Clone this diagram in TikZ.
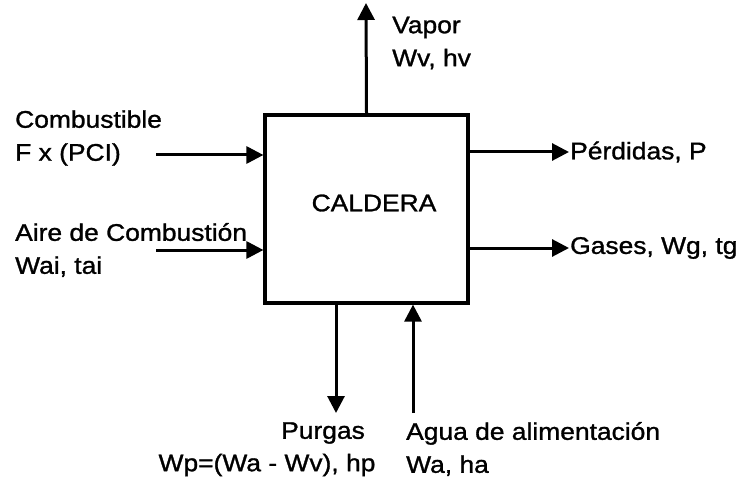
\documentclass[tikz,border=0pt]{standalone}
\usepackage{fontspec}
\setmainfont[FakeStretch=1.1, FakeBold=1.2]{Liberation Sans}
\usetikzlibrary{arrows.meta, positioning}
\tikzset{
  %% boiler block
  caja/.style={rectangle, draw=black, line width=3.2pt, minimum width=203pt,
               minimum height=188pt, inner sep=0pt},
  %% texts
  lbl/.style={font=\fontsize{24}{33}\selectfont, align=left, inner sep=0pt},
  %% flows
  flow/.style={draw=black, line width=3pt,
               -{Triangle[length=17pt, width=17pt]}},
}
\begin{document}
\begin{tikzpicture}[x=1pt, y=-1pt]
\useasboundingbox (0,0) rectangle (754,481);

%% --- block ---
\node[caja] (caldera) at (366.5,209) {};
\node[lbl] (calderaTxt) at (374,203) {CALDERA};

%% --- free ends of the flows ---
\coordinate (vaporEnd)  at (366,3);
\coordinate (combStart) at (156,155);
\coordinate (aireStart) at (156,250);
\coordinate (perdEnd)   at (569,152);
\coordinate (gasEnd)    at (569,248);
\coordinate (purgEnd)   at (336,413);
\coordinate (aguaStart) at (413,413);

%% --- labels ---
\node[lbl, anchor=west] (vapor) at (392,43) {Vapor\\Wv, hv};
\node[lbl, anchor=west] (comb)  at (15,138) {Combustible\\F x (PCI)};
\node[lbl, anchor=west] (aire)  at (15,250) {Aire de Combustión\\Wai, tai};
\node[lbl, anchor=west] (perd)  at (570,152) {Pérdidas, P};
\node[lbl, anchor=west] (gas)   at (570,248) {Gases, Wg, tg};
\node[lbl] (purg)  at (323,433) {Purgas};
\node[lbl] (purgW) at (267,465) {Wp=(Wa - Wv), hp};
\node[lbl, anchor=west] (agua) at (406,449) {Agua de alimentación\\Wa, ha};

%% --- flows ---
\draw[flow] (caldera.north) -- (vaporEnd);
\draw[flow] (combStart) -- (combStart -| caldera.west);
\draw[flow] (aireStart) -- (aireStart -| caldera.west);
\draw[flow] (perdEnd -| caldera.east) -- (perdEnd);
\draw[flow] (gasEnd -| caldera.east) -- (gasEnd);
\draw[flow] (purgEnd |- caldera.south) -- (purgEnd);
\draw[flow] (aguaStart) -- (aguaStart |- caldera.south);

\end{tikzpicture}
\end{document}
